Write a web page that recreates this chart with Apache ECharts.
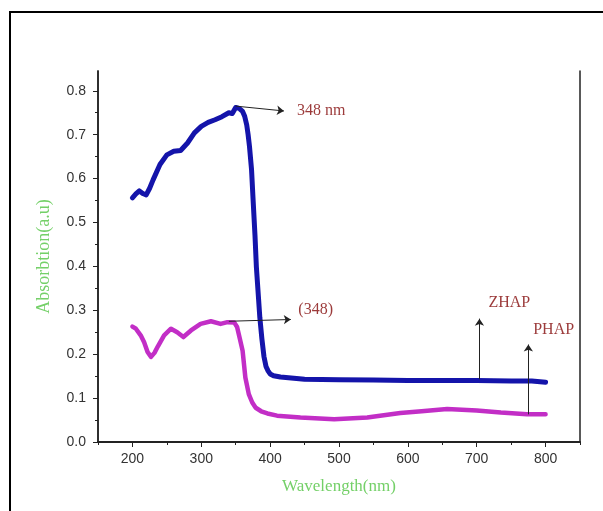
<!DOCTYPE html>
<html>
<head>
<meta charset="utf-8">
<script src="https://cdn.jsdelivr.net/npm/echarts@6/dist/echarts.min.js"></script>
<style>
  html, body { margin: 0; padding: 0; background: #fff; }
  #chart { width: 603px; height: 511px; }
</style>
</head>
<body>
<div id="chart"></div>
<script>
// ZHAP (blue)
var wavelengthZ = [200, 205, 210, 215, 220, 225, 230, 240, 250, 260, 270, 280, 290, 300, 310, 320, 330, 340, 345, 350,
  355, 360, 363, 366, 368, 370, 373, 375, 378, 380, 383, 385, 388, 391, 394, 397, 400, 405, 415, 450, 500, 550, 600, 650,
  700, 750, 780, 800]
var absZ = [0.556, 0.565, 0.572, 0.566, 0.563, 0.578, 0.597, 0.632, 0.654, 0.662, 0.664, 0.681, 0.704, 0.719, 0.728, 0.734, 0.741, 0.750, 0.748, 0.762,
  0.760, 0.753, 0.742, 0.722, 0.700, 0.673, 0.620, 0.559, 0.470, 0.399, 0.330, 0.284, 0.235, 0.195, 0.172, 0.162, 0.155, 0.151, 0.148, 0.143, 0.142, 0.141, 0.140, 0.140,
  0.140, 0.139, 0.139, 0.136]

// PHAP (magenta)
var wavelengthP = [200, 205, 212, 217, 222, 227, 232, 237, 246, 256, 265, 274, 285, 299, 314, 328, 338, 348, 352, 356,
  360, 364, 369, 374, 379, 387, 396, 410, 444, 493, 541, 589, 620, 657, 700, 735, 773, 800]
var absP = [0.263, 0.258, 0.243, 0.227, 0.205, 0.194, 0.203, 0.218, 0.243, 0.258, 0.250, 0.239, 0.254, 0.269, 0.275, 0.269, 0.273, 0.272, 0.262, 0.235,
  0.208, 0.147, 0.109, 0.090, 0.078, 0.070, 0.065, 0.060, 0.056, 0.052, 0.056, 0.066, 0.070, 0.075, 0.072, 0.067, 0.063, 0.063]

var xLabels = [200, 300, 400, 500, 600, 700, 800]
var xMinor = [150, 250, 350, 450, 550, 650, 750, 850]
var yLabels = [0, 0.1, 0.2, 0.3, 0.4, 0.5, 0.6, 0.7, 0.8]
var yMinor = [0.05, 0.15, 0.25, 0.35, 0.45, 0.55, 0.65, 0.75]

var noteColor = '#9c3b3b'
var nameColor = '#74d068'

var chart = echarts.init(document.getElementById('chart'))

function pairs (xs, ys) {
  return xs.map(function (x, i) { return [x, ys[i]] })
}

function arrow (a, b) {
  return [{coord: a}, {coord: b}]
}

function note (text, at) {
  return {name: text, coord: at}
}

var axisLine = {show: true, lineStyle: {color: '#222', width: 1.5}}

chart.setOption({
  animation: false,
  grid: {left: 98, right: 23, top: 71, bottom: 69},
  graphic: [{
    type: 'rect',
    shape: {x: 10, y: 12, width: 620, height: 520},
    style: {fill: 'none', stroke: '#000', lineWidth: 2}
  }],
  xAxis: [{
    type: 'value', min: 150, max: 850,
    name: 'Wavelength(nm)', nameLocation: 'middle', nameGap: 36,
    nameTextStyle: {color: nameColor, fontFamily: 'Liberation Serif', fontSize: 17},
    axisLine: axisLine,
    axisTick: {show: true, length: 5, customValues: xLabels, lineStyle: {color: '#222'}},
    axisLabel: {customValues: xLabels, color: '#333', fontFamily: 'Liberation Sans', fontSize: 14, margin: 10},
    splitLine: {show: false}
  }, {
    type: 'value', min: 150, max: 850, position: 'bottom',
    axisLine: axisLine,
    axisTick: {show: true, length: 3, customValues: xMinor, lineStyle: {color: '#222'}},
    axisLabel: {show: false},
    splitLine: {show: false}
  }, {
    type: 'value', min: 150, max: 850, position: 'top',
    axisLine: axisLine, axisTick: {show: false}, axisLabel: {show: false}, splitLine: {show: false}
  }],
  yAxis: [{
    type: 'value', min: 0, max: 0.845,
    name: 'Absorbtion(a.u)', nameLocation: 'middle', nameGap: 45,
    nameTextStyle: {color: nameColor, fontFamily: 'Liberation Serif', fontSize: 18},
    axisLine: axisLine,
    axisTick: {show: true, length: 5, customValues: yLabels, lineStyle: {color: '#222'}},
    axisLabel: {customValues: yLabels, color: '#333', fontFamily: 'Liberation Sans', fontSize: 14, margin: 12,
      formatter: function (v) { return v.toFixed(1) }},
    splitLine: {show: false}
  }, {
    type: 'value', min: 0, max: 0.845, position: 'left',
    axisLine: axisLine,
    axisTick: {show: true, length: 3, customValues: yMinor, lineStyle: {color: '#222'}},
    axisLabel: {show: false},
    splitLine: {show: false}
  }, {
    type: 'value', min: 0, max: 0.845, position: 'right',
    axisLine: axisLine, axisTick: {show: false}, axisLabel: {show: false}, splitLine: {show: false}
  }],
  series: [{
    name: 'ZHAP',
    type: 'line',
    data: pairs(wavelengthZ, absZ),
    showSymbol: false,
    smooth: false,
    lineStyle: {color: '#1414aa', width: 5, join: 'round', cap: 'round'},
    markLine: {
      silent: true,
      symbol: ['none', 'arrow'],
      symbolSize: 7,
      label: {show: false},
      lineStyle: {color: '#222', width: 1, type: 'solid'},
      data: [
        arrow([350, 0.765], [420, 0.754]),
        arrow([340, 0.275], [430, 0.279]),
        arrow([704, 0.143], [704, 0.281]),
        arrow([775, 0.063], [775, 0.222])
      ]
    },
    markPoint: {
      silent: true,
      symbol: 'circle',
      symbolSize: 0,
      label: {show: true, position: 'right', distance: 0, formatter: '{b}',
        color: noteColor, fontFamily: 'Liberation Serif', fontSize: 16},
      data: [
        note('348 nm', [439, 0.7535]),
        note('(348)', [441, 0.302]),
        note('ZHAP', [717, 0.316]),
        note('PHAP', [782, 0.256])
      ]
    }
  }, {
    name: 'PHAP',
    type: 'line',
    data: pairs(wavelengthP, absP),
    showSymbol: false,
    smooth: false,
    lineStyle: {color: '#c22ec6', width: 4.5, join: 'round', cap: 'round'}
  }]
})
</script>
</body>
</html>
